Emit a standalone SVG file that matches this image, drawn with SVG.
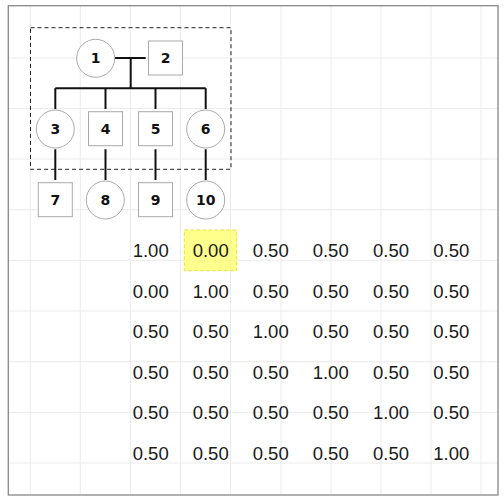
<svg xmlns="http://www.w3.org/2000/svg" width="504" height="504" viewBox="0 0 504 504">
<style>
.grid line{stroke:#ebebeb;stroke-width:1}
.node circle,.node rect{fill:#fff;stroke:#aaa;stroke-width:1}
.node text{font-family:"DejaVu Sans",sans-serif;font-size:14px;font-weight:bold;fill:#111;text-anchor:middle;dominant-baseline:central}
.links path{fill:none;stroke:#111;stroke-width:2}
.m text{font-family:"Liberation Sans",Arial,sans-serif;font-size:18.5px;fill:#1a1a1a;text-anchor:middle;dominant-baseline:central}
</style>
<rect x="0" y="0" width="504" height="504" fill="#fff"/>
<g class="grid">
<line x1="30.3" y1="6" x2="30.3" y2="495"/><line x1="80.3" y1="6" x2="80.3" y2="495"/><line x1="130.3" y1="6" x2="130.3" y2="495"/><line x1="180.3" y1="6" x2="180.3" y2="495"/><line x1="230.5" y1="6" x2="230.5" y2="495"/><line x1="281" y1="6" x2="281" y2="495"/><line x1="331" y1="6" x2="331" y2="495"/><line x1="381" y1="6" x2="381" y2="495"/><line x1="431" y1="6" x2="431" y2="495"/><line x1="481" y1="6" x2="481" y2="495"/>
<line x1="8" y1="58" x2="498" y2="58"/><line x1="8" y1="108.5" x2="498" y2="108.5"/><line x1="8" y1="159" x2="498" y2="159"/><line x1="8" y1="209.7" x2="498" y2="209.7"/><line x1="8" y1="260.3" x2="498" y2="260.3"/><line x1="8" y1="311" x2="498" y2="311"/><line x1="8" y1="361.7" x2="498" y2="361.7"/><line x1="8" y1="412.3" x2="498" y2="412.3"/><line x1="8" y1="463" x2="498" y2="463"/>
</g>
<rect x="8.3" y="5.7" width="489.7" height="489.3" fill="none" stroke="#888" stroke-width="1.3"/>
<rect x="30.5" y="27.7" width="200.5" height="141.6" fill="none" stroke="#222" stroke-width="1" stroke-dasharray="4,3"/>
<g class="links">
<path d="M115,58 H145.7"/>
<path d="M130.7,58 V88.3"/>
<path d="M55.3,88.3 H205.7"/>
<path d="M55.3,88.3 V109 M105.5,88.3 V109 M155.5,88.3 V109 M205.7,88.3 V109"/>
<path d="M55.3,149.3 V180 M105.5,149.3 V180 M155.5,149.3 V180 M205.7,149.3 V180"/>
</g>
<g id="n1" class="node"><circle cx="95.7" cy="58.3" r="19"/><text x="95.7" y="58.3">1</text></g>
<g id="n2" class="node"><rect x="148.5" y="41" width="34" height="34"/><text x="165.5" y="58">2</text></g>
<g id="n3" class="node"><circle cx="55.3" cy="129" r="19"/><text x="55.3" y="129">3</text></g>
<g id="n4" class="node"><rect x="88.5" y="111.7" width="34" height="34"/><text x="105.5" y="128.7">4</text></g>
<g id="n5" class="node"><rect x="138.5" y="111.7" width="34" height="34"/><text x="155.5" y="128.7">5</text></g>
<g id="n6" class="node"><circle cx="205.7" cy="129" r="19"/><text x="205.7" y="129">6</text></g>
<g id="n7" class="node"><rect x="38.3" y="182.7" width="34" height="34"/><text x="55.3" y="199.7">7</text></g>
<g id="n8" class="node"><circle cx="105.3" cy="200" r="19"/><text x="105.3" y="200">8</text></g>
<g id="n9" class="node"><rect x="138.5" y="182.7" width="34" height="34"/><text x="155.5" y="199.7">9</text></g>
<g id="n10" class="node"><circle cx="205.7" cy="200" r="19"/><text x="205.7" y="200">10</text></g>
<rect x="184.3" y="230" width="52.4" height="40.7" fill="#ffff66" fill-opacity="0.75" stroke="#f0e040" stroke-width="1" stroke-dasharray="4,2"/>
<g class="m">
<text x="150.7" y="250.3">1.00</text><text x="210.7" y="250.3">0.00</text><text x="270.7" y="250.3">0.50</text><text x="330.7" y="250.3">0.50</text><text x="391" y="250.3">0.50</text><text x="451.3" y="250.3">0.50</text>
<text x="150.7" y="291.5">0.00</text><text x="210.7" y="291.5">1.00</text><text x="270.7" y="291.5">0.50</text><text x="330.7" y="291.5">0.50</text><text x="391" y="291.5">0.50</text><text x="451.3" y="291.5">0.50</text>
<text x="150.7" y="331.7">0.50</text><text x="210.7" y="331.7">0.50</text><text x="270.7" y="331.7">1.00</text><text x="330.7" y="331.7">0.50</text><text x="391" y="331.7">0.50</text><text x="451.3" y="331.7">0.50</text>
<text x="150.7" y="372.3">0.50</text><text x="210.7" y="372.3">0.50</text><text x="270.7" y="372.3">0.50</text><text x="330.7" y="372.3">1.00</text><text x="391" y="372.3">0.50</text><text x="451.3" y="372.3">0.50</text>
<text x="150.7" y="412.7">0.50</text><text x="210.7" y="412.7">0.50</text><text x="270.7" y="412.7">0.50</text><text x="330.7" y="412.7">0.50</text><text x="391" y="412.7">1.00</text><text x="451.3" y="412.7">0.50</text>
<text x="150.7" y="453.3">0.50</text><text x="210.7" y="453.3">0.50</text><text x="270.7" y="453.3">0.50</text><text x="330.7" y="453.3">0.50</text><text x="391" y="453.3">0.50</text><text x="451.3" y="453.3">1.00</text>
</g>
</svg>
